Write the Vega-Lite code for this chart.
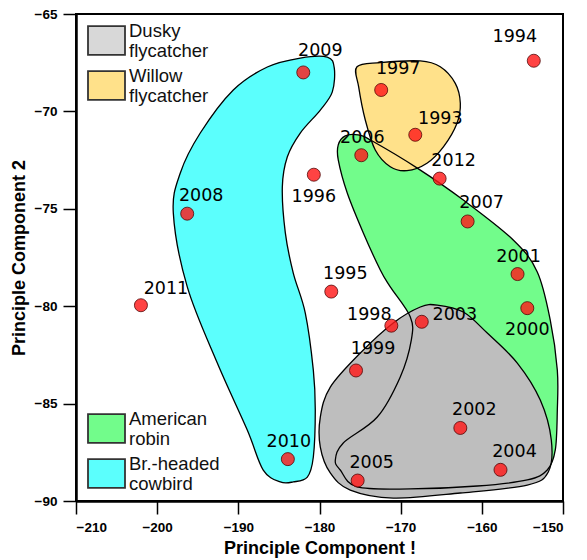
{
  "$schema": "https://vega.github.io/schema/vega-lite/v6.json",
  "width": 487,
  "height": 487,
  "autosize": {"type": "none"},
  "padding": {"left": 76, "top": 14, "right": 24, "bottom": 59},
  "background": "white",
  "config": {
    "view": {"stroke": "black", "strokeWidth": 2},
    "axis": {
      "grid": false,
      "domainColor": "black",
      "domainWidth": 2.5,
      "tickColor": "black",
      "tickWidth": 1.5,
      "tickSize": 13,
      "labelFont": "Liberation Sans",
      "labelFontWeight": "bold",
      "labelFontSize": 13.5,
      "labelColor": "black",
      "titleFont": "Liberation Sans",
      "titleFontWeight": "bold",
      "titleFontSize": 18,
      "titleColor": "black"
    },
    "legend": {
      "orient": "none",
      "title": null,
      "padding": 0,
      "symbolType": "M-1,-0.78H1V0.78H-1Z",
      "symbolSize": 1369,
      "symbolStrokeColor": "#333333",
      "symbolStrokeWidth": 1.8,
      "symbolOpacity": 1,
      "labelFont": "Liberation Sans",
      "labelFontSize": 18.5,
      "labelColor": "#111111",
      "labelOffset": 3,
      "labelLimit": 0,
      "rowPadding": 5
    }
  },
  "datasets": {
    "points": [
      {"year": "2009", "x": -182.0, "y": -68.0},
      {"year": "1997", "x": -172.4, "y": -68.9},
      {"year": "1993", "x": -168.2, "y": -71.2},
      {"year": "1994", "x": -153.6, "y": -67.4},
      {"year": "2006", "x": -174.85, "y": -72.25},
      {"year": "1996", "x": -180.7, "y": -73.25},
      {"year": "2012", "x": -165.2, "y": -73.45},
      {"year": "2007", "x": -161.75, "y": -75.65},
      {"year": "2001", "x": -155.6, "y": -78.35},
      {"year": "2008", "x": -196.3, "y": -75.25},
      {"year": "2011", "x": -202.0, "y": -79.95},
      {"year": "1995", "x": -178.55, "y": -79.25},
      {"year": "1998", "x": -171.15, "y": -81.0},
      {"year": "2003", "x": -167.4, "y": -80.8},
      {"year": "2000", "x": -154.4, "y": -80.1},
      {"year": "1999", "x": -175.5, "y": -83.3},
      {"year": "2002", "x": -162.65, "y": -86.25},
      {"year": "2004", "x": -157.7, "y": -88.4},
      {"year": "2005", "x": -175.3, "y": -88.95},
      {"year": "2010", "x": -183.9, "y": -87.85}
    ],
    "outlines": [
      {"species": "Br.-headed cowbird", "i": 1, "x": -182.37, "y": -67.26},
      {"species": "Br.-headed cowbird", "i": 2, "x": -179.04, "y": -67.21},
      {"species": "Br.-headed cowbird", "i": 3, "x": -178.18, "y": -67.77},
      {"species": "Br.-headed cowbird", "i": 4, "x": -178.42, "y": -69.0},
      {"species": "Br.-headed cowbird", "i": 5, "x": -179.9, "y": -69.93},
      {"species": "Br.-headed cowbird", "i": 6, "x": -182.37, "y": -71.11},
      {"species": "Br.-headed cowbird", "i": 7, "x": -183.97, "y": -72.34},
      {"species": "Br.-headed cowbird", "i": 8, "x": -184.58, "y": -73.88},
      {"species": "Br.-headed cowbird", "i": 9, "x": -184.21, "y": -76.24},
      {"species": "Br.-headed cowbird", "i": 10, "x": -183.23, "y": -78.3},
      {"species": "Br.-headed cowbird", "i": 11, "x": -181.75, "y": -80.35},
      {"species": "Br.-headed cowbird", "i": 12, "x": -180.76, "y": -83.28},
      {"species": "Br.-headed cowbird", "i": 13, "x": -180.52, "y": -85.33},
      {"species": "Br.-headed cowbird", "i": 14, "x": -180.76, "y": -87.74},
      {"species": "Br.-headed cowbird", "i": 15, "x": -181.5, "y": -88.77},
      {"species": "Br.-headed cowbird", "i": 16, "x": -183.23, "y": -89.02},
      {"species": "Br.-headed cowbird", "i": 17, "x": -184.83, "y": -89.02},
      {"species": "Br.-headed cowbird", "i": 18, "x": -186.93, "y": -88.41},
      {"species": "Br.-headed cowbird", "i": 19, "x": -188.9, "y": -86.36},
      {"species": "Br.-headed cowbird", "i": 20, "x": -192.59, "y": -82.92},
      {"species": "Br.-headed cowbird", "i": 21, "x": -196.29, "y": -79.01},
      {"species": "Br.-headed cowbird", "i": 22, "x": -198.01, "y": -75.22},
      {"species": "Br.-headed cowbird", "i": 23, "x": -197.15, "y": -73.16},
      {"species": "Br.-headed cowbird", "i": 24, "x": -194.69, "y": -71.11},
      {"species": "Br.-headed cowbird", "i": 25, "x": -190.62, "y": -68.9},
      {"species": "Br.-headed cowbird", "i": 26, "x": -186.43, "y": -67.72},
      {"species": "American robin", "i": 1, "x": -177.69, "y": -71.72},
      {"species": "American robin", "i": 2, "x": -176.82, "y": -71.26},
      {"species": "American robin", "i": 3, "x": -175.22, "y": -71.21},
      {"species": "American robin", "i": 4, "x": -173.5, "y": -71.52},
      {"species": "American robin", "i": 5, "x": -167.95, "y": -72.91},
      {"species": "American robin", "i": 6, "x": -162.28, "y": -74.55},
      {"species": "American robin", "i": 7, "x": -156.13, "y": -76.6},
      {"species": "American robin", "i": 8, "x": -153.17, "y": -78.24},
      {"species": "American robin", "i": 9, "x": -151.57, "y": -80.71},
      {"species": "American robin", "i": 10, "x": -150.7, "y": -83.28},
      {"species": "American robin", "i": 11, "x": -150.7, "y": -85.33},
      {"species": "American robin", "i": 12, "x": -150.95, "y": -87.38},
      {"species": "American robin", "i": 13, "x": -151.94, "y": -88.41},
      {"species": "American robin", "i": 14, "x": -154.4, "y": -88.92},
      {"species": "American robin", "i": 15, "x": -160.56, "y": -89.23},
      {"species": "American robin", "i": 16, "x": -168.81, "y": -89.38},
      {"species": "American robin", "i": 17, "x": -175.34, "y": -89.28},
      {"species": "American robin", "i": 18, "x": -177.44, "y": -88.41},
      {"species": "American robin", "i": 19, "x": -178.05, "y": -87.9},
      {"species": "American robin", "i": 20, "x": -177.07, "y": -87.02},
      {"species": "American robin", "i": 21, "x": -172.88, "y": -85.69},
      {"species": "American robin", "i": 22, "x": -170.05, "y": -83.63},
      {"species": "American robin", "i": 23, "x": -168.69, "y": -81.74},
      {"species": "American robin", "i": 24, "x": -168.81, "y": -80.55},
      {"species": "American robin", "i": 25, "x": -171.28, "y": -79.01},
      {"species": "American robin", "i": 26, "x": -172.51, "y": -78.14},
      {"species": "American robin", "i": 27, "x": -174.6, "y": -76.24},
      {"species": "American robin", "i": 28, "x": -176.58, "y": -74.19},
      {"species": "American robin", "i": 29, "x": -177.69, "y": -72.49},
      {"species": "Dusky flycatcher", "i": 1, "x": -167.58, "y": -80.04},
      {"species": "Dusky flycatcher", "i": 2, "x": -165.49, "y": -79.94},
      {"species": "Dusky flycatcher", "i": 3, "x": -162.28, "y": -80.3},
      {"species": "Dusky flycatcher", "i": 4, "x": -159.33, "y": -81.38},
      {"species": "Dusky flycatcher", "i": 5, "x": -155.63, "y": -82.92},
      {"species": "Dusky flycatcher", "i": 6, "x": -152.8, "y": -84.82},
      {"species": "Dusky flycatcher", "i": 7, "x": -151.44, "y": -86.87},
      {"species": "Dusky flycatcher", "i": 8, "x": -151.81, "y": -88.51},
      {"species": "Dusky flycatcher", "i": 9, "x": -154.4, "y": -89.18},
      {"species": "Dusky flycatcher", "i": 10, "x": -162.65, "y": -89.59},
      {"species": "Dusky flycatcher", "i": 11, "x": -170.91, "y": -89.85},
      {"species": "Dusky flycatcher", "i": 12, "x": -176.21, "y": -89.44},
      {"species": "Dusky flycatcher", "i": 13, "x": -178.67, "y": -88.56},
      {"species": "Dusky flycatcher", "i": 14, "x": -179.9, "y": -87.23},
      {"species": "Dusky flycatcher", "i": 15, "x": -179.9, "y": -85.69},
      {"species": "Dusky flycatcher", "i": 16, "x": -178.67, "y": -84.15},
      {"species": "Dusky flycatcher", "i": 17, "x": -174.97, "y": -82.4},
      {"species": "Dusky flycatcher", "i": 18, "x": -170.91, "y": -80.86},
      {"species": "Willow flycatcher", "i": 1, "x": -175.38, "y": -67.71},
      {"species": "Willow flycatcher", "i": 2, "x": -172.51, "y": -67.5},
      {"species": "Willow flycatcher", "i": 3, "x": -167.58, "y": -67.41},
      {"species": "Willow flycatcher", "i": 4, "x": -165.12, "y": -67.71},
      {"species": "Willow flycatcher", "i": 5, "x": -163.27, "y": -68.56},
      {"species": "Willow flycatcher", "i": 6, "x": -162.65, "y": -69.58},
      {"species": "Willow flycatcher", "i": 7, "x": -163.06, "y": -70.61},
      {"species": "Willow flycatcher", "i": 8, "x": -164.71, "y": -71.81},
      {"species": "Willow flycatcher", "i": 9, "x": -166.76, "y": -72.66},
      {"species": "Willow flycatcher", "i": 10, "x": -169.22, "y": -73.04},
      {"species": "Willow flycatcher", "i": 11, "x": -171.28, "y": -72.84},
      {"species": "Willow flycatcher", "i": 12, "x": -173.13, "y": -71.98},
      {"species": "Willow flycatcher", "i": 13, "x": -174.36, "y": -70.44},
      {"species": "Willow flycatcher", "i": 14, "x": -175.18, "y": -68.73}
    ]
  },
  "encoding": {
    "x": {
      "field": "x", "type": "quantitative",
      "scale": {"domain": [-210, -150], "nice": false, "zero": false},
      "axis": {"title": "Principle Component !", "values": [-210, -200, -190, -180, -170, -160, -150], "labelPadding": 6, "titlePadding": 6}
    },
    "y": {
      "field": "y", "type": "quantitative",
      "scale": {"domain": [-90, -65], "nice": false, "zero": false},
      "axis": {"title": "Principle Component 2", "values": [-90, -85, -80, -75, -70, -65], "labelPadding": 6, "titlePadding": 6}
    }
  },
  "layer": [
    {
      "data": {"name": "outlines"},
      "transform": [{"filter": {"field": "species", "oneOf": ["Br.-headed cowbird", "American robin"]}}],
      "mark": {"type": "line", "interpolate": "cardinal-closed", "strokeOpacity": 0},
      "encoding": {
        "order": {"field": "i", "type": "quantitative"},
        "fill": {
          "field": "species", "type": "nominal",
          "scale": {"domain": ["American robin", "Br.-headed cowbird"], "range": ["#72fc8b", "#5bfffd"]},
          "legend": {"legendX": 11, "legendY": 395, "labelExpr": "split(datum.label, ' ')", "encode": {"labels": {"update": {"dy": {"value": -10}}}}}
        }
      }
    },
    {
      "data": {"name": "outlines"},
      "transform": [{"filter": {"field": "species", "oneOf": ["Dusky flycatcher", "Willow flycatcher"]}}],
      "mark": {"type": "line", "interpolate": "cardinal-closed", "strokeOpacity": 0},
      "encoding": {
        "order": {"field": "i", "type": "quantitative"},
        "fill": {
          "field": "species", "type": "nominal",
          "scale": {"domain": ["Dusky flycatcher", "Willow flycatcher"], "range": ["#bebebe", "#ffe18a"]},
          "legend": {"legendX": 11, "legendY": 7, "labelExpr": "split(datum.label, ' ')", "encode": {"labels": {"update": {"dy": {"value": -10}}}, "symbols": {"update": {"fillOpacity": {"signal": "datum.value === 'Dusky flycatcher' ? 0.6 : 1"}}}}}
        }
      }
    },
    {
      "data": {"name": "outlines"},
      "mark": {"type": "line", "interpolate": "cardinal-closed", "stroke": "black", "strokeWidth": 1.3},
      "encoding": {
        "order": {"field": "i", "type": "quantitative"},
        "detail": {"field": "species", "type": "nominal"}
      }
    },
    {
      "data": {"name": "points"},
      "mark": {"type": "point", "shape": "circle", "filled": true, "size": 170, "fill": "#ff1a1a", "fillOpacity": 0.82, "stroke": "#4a0000", "strokeWidth": 1, "strokeOpacity": 0.75}
    },
    {
      "data": {"name": "points"},
      "transform": [{"filter": {"field": "year", "oneOf": ["2009", "1997", "1999"]}}],
      "mark": {"type": "text", "font": "DejaVu Sans", "fontSize": 17.5, "color": "black", "align": "center", "baseline": "middle", "dx": 17, "dy": -21},
      "encoding": {"text": {"field": "year"}}
    },
    {
      "data": {"name": "points"},
      "transform": [{"filter": {"field": "year", "oneOf": ["2012", "2007", "2008", "1995", "2005", "2002", "2004"]}}],
      "mark": {"type": "text", "font": "DejaVu Sans", "fontSize": 17.5, "color": "black", "align": "center", "baseline": "middle", "dx": 14, "dy": -18},
      "encoding": {"text": {"field": "year"}}
    },
    {
      "data": {"name": "points"},
      "transform": [{"filter": {"field": "year", "oneOf": ["1993", "2011"]}}],
      "mark": {"type": "text", "font": "DejaVu Sans", "fontSize": 17.5, "color": "black", "align": "center", "baseline": "middle", "dx": 25, "dy": -16},
      "encoding": {"text": {"field": "year"}}
    },
    {
      "data": {"name": "points"},
      "transform": [{"filter": {"field": "year", "oneOf": ["2006", "2001", "2010"]}}],
      "mark": {"type": "text", "font": "DejaVu Sans", "fontSize": 17.5, "color": "black", "align": "center", "baseline": "middle", "dx": 1, "dy": -17},
      "encoding": {"text": {"field": "year"}}
    },
    {
      "data": {"name": "points"},
      "transform": [{"filter": {"field": "year", "oneOf": ["1996", "2000"]}}],
      "mark": {"type": "text", "font": "DejaVu Sans", "fontSize": 17.5, "color": "black", "align": "center", "baseline": "middle", "dx": 0, "dy": 22},
      "encoding": {"text": {"field": "year"}}
    },
    {
      "data": {"name": "points"},
      "transform": [{"filter": {"field": "year", "equal": "1994"}}],
      "mark": {"type": "text", "font": "DejaVu Sans", "fontSize": 17.5, "color": "black", "align": "center", "baseline": "middle", "dx": -19, "dy": -24},
      "encoding": {"text": {"field": "year"}}
    },
    {
      "data": {"name": "points"},
      "transform": [{"filter": {"field": "year", "equal": "1998"}}],
      "mark": {"type": "text", "font": "DejaVu Sans", "fontSize": 17.5, "color": "black", "align": "center", "baseline": "middle", "dx": -22, "dy": -11},
      "encoding": {"text": {"field": "year"}}
    },
    {
      "data": {"name": "points"},
      "transform": [{"filter": {"field": "year", "equal": "2003"}}],
      "mark": {"type": "text", "font": "DejaVu Sans", "fontSize": 17.5, "color": "black", "align": "center", "baseline": "middle", "dx": 33, "dy": -7},
      "encoding": {"text": {"field": "year"}}
    }
  ],
  "resolve": {"scale": {"fill": "independent"}, "legend": {"fill": "independent"}}
}
